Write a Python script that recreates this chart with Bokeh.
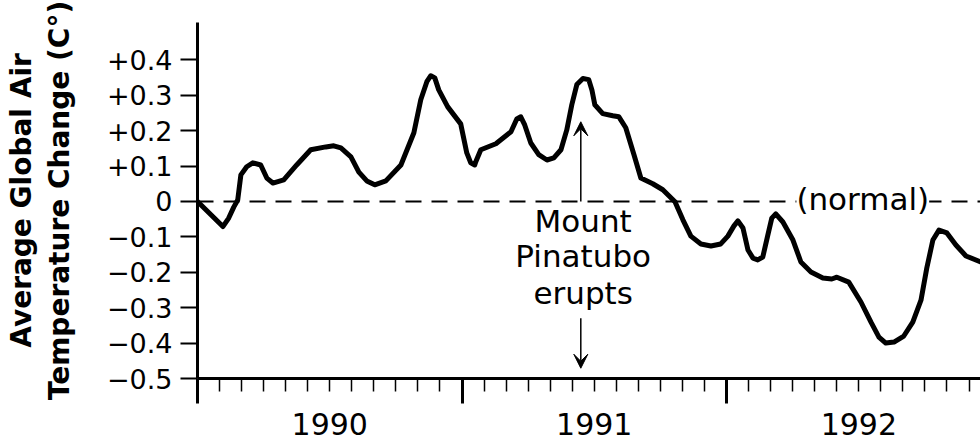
from bokeh.plotting import figure
from bokeh.models import (Range1d, FixedTicker, Label, Arrow, VeeHead, Span,
                          LinearAxis, Title)
from bokeh.embed import file_html
from bokeh.resources import INLINE

# ---- data ----
years = [1990.000, 1990.096, 1990.118, 1990.137, 1990.152, 1990.164, 1990.186,
         1990.209, 1990.239, 1990.262, 1990.285, 1990.326, 1990.375, 1990.428,
         1990.485, 1990.515, 1990.542, 1990.580, 1990.610, 1990.640, 1990.670,
         1990.712, 1990.769, 1990.818, 1990.844, 1990.867, 1990.882, 1990.897,
         1990.912, 1990.946, 1990.995, 1991.018, 1991.033, 1991.048, 1991.052,
         1991.071, 1991.128, 1991.185, 1991.207, 1991.222, 1991.237, 1991.260,
         1991.290, 1991.321, 1991.347, 1991.374, 1991.396, 1991.415, 1991.434,
         1991.457, 1991.479, 1991.491, 1991.502, 1991.532, 1991.570, 1991.593,
         1991.619, 1991.650, 1991.676, 1991.721, 1991.759, 1991.782, 1991.805,
         1991.835, 1991.865, 1991.903, 1991.941, 1991.978, 1992.005, 1992.028,
         1992.043, 1992.062, 1992.081, 1992.100, 1992.118, 1992.137, 1992.156,
         1992.171, 1992.186, 1992.213, 1992.251, 1992.281, 1992.319, 1992.364,
         1992.398, 1992.417, 1992.462, 1992.508, 1992.546, 1992.576, 1992.602,
         1992.633, 1992.670, 1992.704, 1992.735, 1992.757, 1992.780, 1992.803,
         1992.833, 1992.867, 1992.905, 1992.961]
anomaly = [0.000, -0.071, -0.047, -0.016, 0.004, 0.075, 0.098,
           0.109, 0.103, 0.066, 0.052, 0.061, 0.103, 0.146,
           0.154, 0.157, 0.151, 0.126, 0.083, 0.058, 0.047,
           0.058, 0.103, 0.194, 0.287, 0.338, 0.355, 0.349,
           0.315, 0.267, 0.219, 0.137, 0.109, 0.103, 0.112,
           0.146, 0.163, 0.197, 0.233, 0.239, 0.216, 0.165,
           0.132, 0.117, 0.123, 0.146, 0.202, 0.273, 0.330,
           0.347, 0.344, 0.315, 0.273, 0.248, 0.242, 0.239,
           0.208, 0.132, 0.066, 0.050, 0.033, 0.016, -0.001,
           -0.052, -0.098, -0.120, -0.126, -0.120, -0.098, -0.069,
           -0.055, -0.075, -0.137, -0.160, -0.165, -0.157, -0.095,
           -0.047, -0.035, -0.058, -0.109, -0.171, -0.199, -0.216,
           -0.219, -0.214, -0.228, -0.284, -0.341, -0.383, -0.400,
           -0.397, -0.380, -0.341, -0.279, -0.188, -0.109, -0.081,
           -0.089, -0.123, -0.154, -0.171]
n = min(len(years), len(anomaly))
years = years[:n]
anomaly = anomaly[:n]

y_ticks = [-0.5, -0.4, -0.3, -0.2, -0.1, 0.0, 0.1, 0.2, 0.3, 0.4]
y_tick_labels = ["\u22120.5", "\u22120.4", "\u22120.3", "\u22120.2", "\u22120.1",
                 "0", "+0.1", "+0.2", "+0.3", "+0.4"]
year_ticks = [1990, 1991, 1992]
year_label_pos = [1990.5, 1991.5, 1992.5]
year_labels = ["1990", "1991", "1992"]
eruption_year = 1991.449

FONT = "DejaVu Sans"

p = figure(width=980, height=440, output_backend="svg", toolbar_location=None,
           x_range=Range1d(1990.0, 1992.960), y_range=Range1d(-0.5, 0.5053),
           min_border_left=197, min_border_right=0, min_border_top=22,
           min_border_bottom=62)
p.outline_line_color = None
p.grid.visible = False
p.background_fill_color = "white"
p.border_fill_color = "white"

# x axis: tick marks (year boundaries long, months short)
xa = p.xaxis[0]
month_ticks = [1990 + k / 12 for k in range(1, 36) if k % 12 != 0]
xa.ticker = FixedTicker(ticks=year_ticks, minor_ticks=month_ticks)
xa.major_label_overrides = {t: "" for t in year_ticks}
xa.major_label_text_font_size = "1px"
xa.major_label_standoff = 0
xa.major_tick_out = 25
xa.major_tick_in = 0
xa.minor_tick_out = 13
xa.minor_tick_in = 0
xa.axis_line_width = 3
xa.major_tick_line_width = 3
xa.minor_tick_line_width = 1.5
xa.axis_line_color = "black"
xa.major_tick_line_color = "black"
xa.minor_tick_line_color = "black"

# x axis: year labels centred in each year
xl = LinearAxis(ticker=FixedTicker(ticks=year_label_pos, minor_ticks=[]),
                major_label_overrides=dict(zip(year_label_pos, year_labels)),
                axis_line_color=None, major_tick_line_color=None,
                minor_tick_line_color=None, major_tick_out=0, major_tick_in=0,
                minor_tick_out=0, minor_tick_in=0, major_label_standoff=9,
                major_label_text_font=FONT, major_label_text_font_size="30px",
                major_label_text_color="black")
p.add_layout(xl, "below")

# y axis
ya = p.yaxis[0]
ya.ticker = FixedTicker(ticks=y_ticks, minor_ticks=[])
ya.major_label_overrides = dict(zip(y_ticks, y_tick_labels))
ya.major_tick_out = 17
ya.major_tick_in = 0
ya.minor_tick_out = 0
ya.minor_tick_in = 0
ya.axis_line_width = 3
ya.major_tick_line_width = 2
ya.major_label_standoff = 8
ya.major_label_text_font = FONT
ya.major_label_text_font_size = "27px"
ya.major_label_text_color = "black"
ya.axis_line_color = "black"
ya.major_tick_line_color = "black"
ya.axis_label = "Temperature Change (C\u00b0)"
ya.axis_label_standoff = 28
ya.axis_label_text_font = FONT
ya.axis_label_text_font_style = "bold"
ya.axis_label_text_font_size = "28px"
ya.axis_label_text_color = "black"

p.add_layout(Title(text="Average Global Air", align="center", standoff=4,
                   text_font=FONT, text_font_style="bold", text_font_size="28px",
                   text_color="black"), "left")

# normal (zero) line
p.add_layout(Span(location=0, dimension="width", line_color="black",
                  line_width=2, line_dash="16 10", level="underlay"))

# curve
p.line(years, anomaly, line_width=5, line_color="black",
       line_join="round", line_cap="round")

# (normal)
p.add_layout(Label(x=1992.515, y=0.008, text="(normal)", text_align="center",
                   text_baseline="alphabetic", text_font=FONT, text_font_size="31px",
                   text_color="black", background_fill_color="white"))

# Mount Pinatubo annotation
for txt, yb in [("Mount", -0.055), ("Pinatubo", -0.154), ("erupts", -0.259)]:
    p.add_layout(Label(x=eruption_year + 0.009, y=yb, text=txt, text_align="center",
                       text_baseline="alphabetic", text_font=FONT,
                       text_font_size="31px", text_color="black"))

p.add_layout(Arrow(end=VeeHead(size=14, fill_color="black", line_color="black"),
                   x_start=eruption_year, y_start=0.0, x_end=eruption_year, y_end=0.225,
                   line_width=1.5, line_color="black"))
p.add_layout(Arrow(end=VeeHead(size=14, fill_color="black", line_color="black"),
                   x_start=eruption_year, y_start=-0.33, x_end=eruption_year, y_end=-0.471,
                   line_width=1.5, line_color="black"))

open("out.html", "w").write(file_html(p, INLINE))
